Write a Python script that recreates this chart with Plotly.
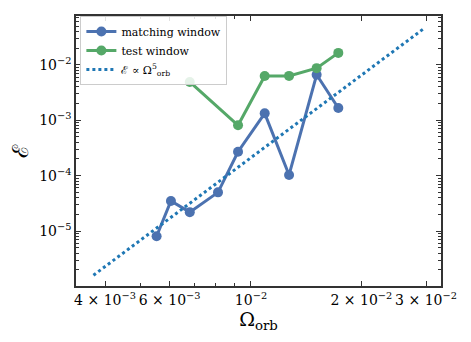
import plotly.graph_objects as go

# matching window
omega_match = [5.53e-3, 6.05e-3, 6.81e-3, 8.13e-3, 9.22e-3, 1.09e-2, 1.27e-2, 1.51e-2, 1.73e-2]
err_match = [8.1e-6, 3.5e-5, 2.2e-5, 5.0e-5, 2.7e-4, 1.33e-3, 1.03e-4, 6.6e-3, 1.66e-3]

# test window
omega_test = [6.81e-3, 9.22e-3, 1.09e-2, 1.27e-2, 1.51e-2, 1.73e-2]
err_test = [4.9e-3, 8.1e-4, 6.26e-3, 6.3e-3, 8.7e-3, 1.64e-2]

# power-law guide, endpoints
omega_fit = [3.72e-3, 2.97e-2]
err_fit = [1.6e-6, 4.58e-2]

x_major = [4e-3, 6e-3, 1e-2, 2e-2, 3e-2]
x_labels = ["4 × 10<sup>−3</sup>", "6 × 10<sup>−3</sup>", "10<sup>−2</sup>",
            "2 × 10<sup>−2</sup>", "3 × 10<sup>−2</sup>"]
x_minor = [5e-3, 7e-3, 8e-3, 9e-3]
y_major = [1e-5, 1e-4, 1e-3, 1e-2]
y_labels = ["10<sup>−5</sup>", "10<sup>−4</sup>", "10<sup>−3</sup>", "10<sup>−2</sup>"]
y_minor = [m * 10.0 ** e for e in range(-6, 0) for m in range(2, 10)]

fnt = "DejaVu Serif, Liberation Serif, serif"
fig = go.Figure()
fig.add_trace(go.Scatter(x=omega_match, y=err_match, name="matching window",
                         mode="lines+markers", line=dict(color="#4C72B0", width=3),
                         marker=dict(size=10, color="#4C72B0")))
fig.add_trace(go.Scatter(x=omega_test, y=err_test, name="test window",
                         mode="lines+markers", line=dict(color="#55A868", width=3),
                         marker=dict(size=10, color="#55A868")))
fig.add_trace(go.Scatter(x=omega_fit, y=err_fit, name="ℰ ∝ Ω<sup>5</sup><sub>orb</sub>",
                         mode="lines", line=dict(color="#1f77b4", width=3, dash="dot")))

axis_common = dict(type="log", showgrid=False, zeroline=False, showline=True,
                   linecolor="#333333", linewidth=1.5, mirror="allticks",
                   ticks="inside", ticklen=5, tickcolor="#333333", tickwidth=1,
                   tickfont=dict(family=fnt, size=14, color="black"))

# the page body adds an 8px offset, so the figure is a bit smaller than the window
fig.update_layout(
    width=463, height=334,
    margin=dict(l=67, r=30, t=6, b=56),
    plot_bgcolor="white", paper_bgcolor="white",
    font=dict(family=fnt, color="black"),
    showlegend=True,
    legend=dict(x=0.012, y=1.0, xanchor="left", yanchor="top",
                bgcolor="rgba(255,255,255,0.85)", bordercolor="#cccccc", borderwidth=1,
                font=dict(family=fnt, size=11), tracegroupgap=0),
    xaxis=dict(axis_common, range=[-2.477, -1.482], tickmode="array",
               tickvals=x_major, ticktext=x_labels,
               minor=dict(ticks="inside", ticklen=3, tickcolor="#333333", tickvals=x_minor),
               title=dict(text="Ω<sub>orb</sub>", font=dict(family=fnt, size=19), standoff=2)),
    yaxis=dict(axis_common, range=[-5.99, -1.12], tickmode="array",
               tickvals=y_major, ticktext=y_labels,
               minor=dict(ticks="inside", ticklen=3, tickcolor="#333333", tickvals=y_minor),
               title=dict(text="ℰ", font=dict(family=fnt, size=22), standoff=10)),
)

fig.write_html("out.html")
